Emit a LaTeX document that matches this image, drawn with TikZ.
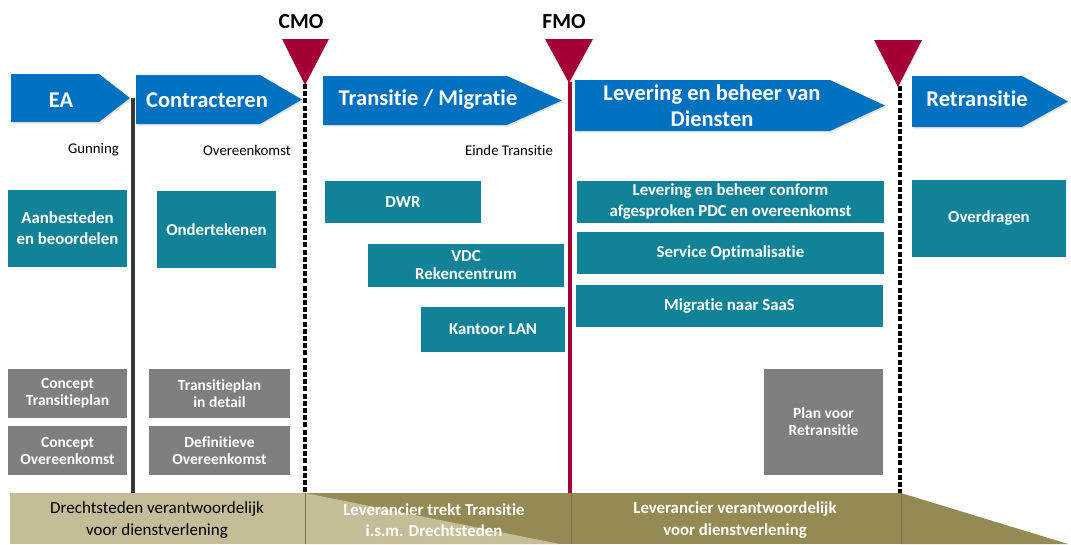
\documentclass[tikz,border=0pt]{standalone}
\usepackage{fontspec}
\setmainfont{Carlito}[Ligatures={NoCommon}]
\usetikzlibrary{shadows}
\definecolor{phaseblue}{HTML}{0070C0}
\definecolor{milered}{HTML}{A50036}
\definecolor{tealbox}{RGB}{18,130,152}
\definecolor{graybox}{HTML}{7F7F7F}
\definecolor{khakilight}{HTML}{C4BD97}
\definecolor{khakidark}{HTML}{948A54}
\definecolor{khakiline}{HTML}{7A7045}
\begin{document}
\begin{tikzpicture}[x=1pt,y=-1pt,
  phase/.style={fill=phaseblue, draw=none, drop shadow={opacity=0.2, shadow xshift=1.5pt, shadow yshift=-1.5pt}},
  phasetxt/.style={text=white, font=\fontsize{22.5}{26}\selectfont\bfseries, align=center, inner sep=0},
  tbox/.style={fill=tealbox, text=white, font=\fontsize{16.8}{21}\selectfont\bfseries, align=center, inner sep=0},
  gbox/.style={fill=graybox, text=white, font=\fontsize{15.5}{17}\selectfont\bfseries, align=center, inner sep=0},
  smalllbl/.style={font=\fontsize{14.8}{16}\selectfont, inner sep=0},
  milelbl/.style={font=\fontsize{21.5}{24}\selectfont\bfseries, inner sep=0},
  mile/.style={fill=milered, draw=none},
  dashline/.style={line width=3.2pt, black, dash pattern=on 5pt off 2.2pt},
  bandtxt/.style={font=\fontsize{17}{21.5}\selectfont, align=center, inner sep=0},
  bandtxtw/.style={font=\fontsize{16.8}{21.5}\selectfont\bfseries, text=white, align=center, inner sep=0}
]
\useasboundingbox (0,0) rectangle (1071,544);

% phase arrows
\path[phase] (11,74) -- (99,74) -- (130,98) -- (99,122) -- (11,122) -- cycle;
\path[phase] (136,75) -- (260,75) -- (302,99.5) -- (260,124) -- (136,124) -- cycle;
\path[phase] (323,76) -- (507,76) -- (562,100.5) -- (507,125) -- (323,125) -- cycle;
\path[phase] (575,80) -- (830,80) -- (885,105.5) -- (830,131) -- (575,131) -- cycle;
\path[phase] (912,76) -- (1022,76) -- (1068,101.5) -- (1022,127) -- (912,127) -- cycle;
\node[phasetxt] (ea) at (61,100) {EA};
\node[phasetxt] (contr) at (207,100) {Contracteren};
\node[phasetxt] (trans) at (428,100) {Transitie / Migratie};
\node[phasetxt] (lev) at (712,106) {Levering en beheer van\\Diensten};
\node[phasetxt] (retr) at (977,99) {Retransitie};

% vertical lines
\coordinate (g1) at (133,98);
\coordinate (g2) at (133,493);
\draw[line width=4pt, black!78] (g1) -- (g2);
\coordinate (c1) at (305,84);
\coordinate (c2) at (305,493);
\draw[dashline] (c1) -- (c2);
\coordinate (f1) at (570,82);
\coordinate (f2) at (570,493);
\draw[line width=3.5pt, milered] (f1) -- (f2);
\coordinate (r1) at (900,86);
\coordinate (r2) at (900,493);
\draw[dashline] (r1) -- (r2);

% milestones
\path[mile] (282,39) -- (329,39) -- (305,85) -- cycle;
\path[mile] (545,39) -- (593,39) -- (569,83) -- cycle;
\path[mile] (874,40) -- (922,40) -- (898,87) -- cycle;
\node[milelbl] (cmo) at (301,22) {CMO};
\node[milelbl] (fmo) at (564,22) {FMO};

% small labels
\node[smalllbl] (gun) at (93.5,150) {Gunning};
\node[smalllbl] (ovk) at (247,150) {Overeenkomst};
\node[smalllbl] (einde) at (509,150) {Einde Transitie};

% teal boxes
\node[tbox, minimum width=119, minimum height=77] (aanb) at (67.5,228.5) {Aanbesteden\\en beoordelen};
\node[tbox, minimum width=119, minimum height=77] (onder) at (216.5,229.5) {Ondertekenen};
\node[tbox, minimum width=156, minimum height=42] (dwr) at (403,202) {DWR};
\node[tbox, minimum width=196, minimum height=43, font=\fontsize{16.8}{18}\selectfont\bfseries] (vdc) at (466,265.5) {VDC\\Rekencentrum};
\node[tbox, minimum width=144, minimum height=45] (lan) at (493,329.5) {Kantoor LAN};
\node[tbox, minimum width=307, minimum height=42] (levb) at (730.5,202) {Levering en beheer conform\\afgesproken PDC en overeenkomst};
\node[tbox, minimum width=307, minimum height=42] (serv) at (730.5,253) {Service Optimalisatie};
\node[tbox, minimum width=307, minimum height=42] (saas) at (729.5,306) {Migratie naar SaaS};
\node[tbox, minimum width=154, minimum height=77] (overd) at (989,218.5) {Overdragen};

% gray boxes
\node[gbox, minimum width=119, minimum height=49] (ctp) at (67.5,393.5) {Concept\\Transitieplan};
\node[gbox, minimum width=119, minimum height=49] (cov) at (67.5,450.5) {Concept\\Overeenkomst};
\node[gbox, minimum width=141, minimum height=49] (tpd) at (219.5,393.5) {Transitieplan\\in detail};
\node[gbox, minimum width=141, minimum height=49] (dov) at (219.5,450.5) {Definitieve\\Overeenkomst};
\node[gbox, minimum width=119, minimum height=106] (pvr) at (823.5,422) {Plan voor\\Retransitie};

% bottom band
\fill[khakilight] (10,493) rectangle (305,544);
\fill[khakidark] (305,493) rectangle (571,544);
\fill[khakilight] (305,493) -- (560,544) -- (305,544) -- cycle;
\fill[khakidark] (571,493) rectangle (901,544);
\fill[khakidark] (901,493) -- (1068,544) -- (901,544) -- cycle;
\draw[khakiline, line width=1pt] (305,493) -- (305,544);
\draw[khakiline, line width=1pt] (571,493) -- (571,544);
\draw[khakiline, line width=1pt] (901,493) -- (901,544);
\node[bandtxt] (ds) at (157,520) {Drechtsteden verantwoordelijk\\voor dienstverlening};
\node[bandtxtw] (lt) at (434,520) {Leverancier trekt Transitie\\i.s.m. Drechtsteden};
\node[bandtxtw] (lv) at (735,520) {Leverancier verantwoordelijk\\voor dienstverlening};
\end{tikzpicture}
\end{document}
